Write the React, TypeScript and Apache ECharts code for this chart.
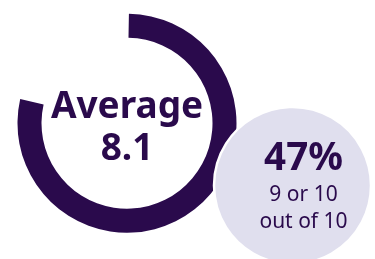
import React, { useEffect, useRef } from "react";
import * as echarts from "echarts";

const averageLabel = "Average";
const averageValue = 8.1;
const scaleMin = 0;
const scaleMax = 10;
const shareValue = "47%";
const shareLines = ["9 or 10", "out of 10"];

const DARK = "#2a0a4c";
const LIGHT = "#e0dfee";
const FONT = "'Noto Sans', sans-serif";

export default function App() {
  const ref = useRef<HTMLDivElement>(null);
  useEffect(() => {
    const chart = echarts.init(ref.current!, null, { renderer: "svg" });
    chart.setOption({
      animation: false,
      series: [
        {
          type: "gauge",
          center: [127, 123.2],
          radius: 109.5,
          startAngle: 89,
          endAngle: -258.8,
          min: scaleMin,
          max: scaleMax,
          progress: { show: true, width: 24, roundCap: false, itemStyle: { color: DARK } },
          axisLine: { lineStyle: { width: 24, color: [[1, "rgba(0,0,0,0)"]] } },
          pointer: { show: false },
          axisTick: { show: false },
          splitLine: { show: false },
          axisLabel: { show: false },
          anchor: { show: false },
          title: { show: false },
          detail: { show: false },
          data: [{ value: averageValue }],
        },
      ],
      graphic: [
        {
          type: "text",
          x: 127,
          y: 124.5,
          style: {
            text: `${averageLabel}\n${averageValue}`,
            fill: DARK,
            font: `bold 37px ${FONT}`,
            lineHeight: 42.5,
            textAlign: "center",
            textVerticalAlign: "middle",
          },
        },
        {
          type: "circle",
          shape: { cx: 292.5, cy: 185.5, r: 78.5 },
          style: { fill: LIGHT, stroke: "#ffffff", lineWidth: 2.5 },
          z: 10,
        },
        {
          type: "text",
          x: 303.5,
          y: 155,
          z: 11,
          style: { text: shareValue, fill: DARK, font: `bold 38.5px ${FONT}`, lineHeight: 36, textAlign: "center", textVerticalAlign: "middle" },
        },
        {
          type: "text",
          x: 303.5,
          y: 206,
          z: 11,
          style: {
            text: shareLines.join("\n"),
            fill: DARK,
            font: `21px ${FONT}`,
            lineHeight: 27,
            textAlign: "center",
            textVerticalAlign: "middle",
          },
        },
      ],
    });
    return () => chart.dispose();
  }, []);
  return <div ref={ref} style={{ position: "fixed", left: 0, top: 0, width: 375, height: 259 }} />;
}
